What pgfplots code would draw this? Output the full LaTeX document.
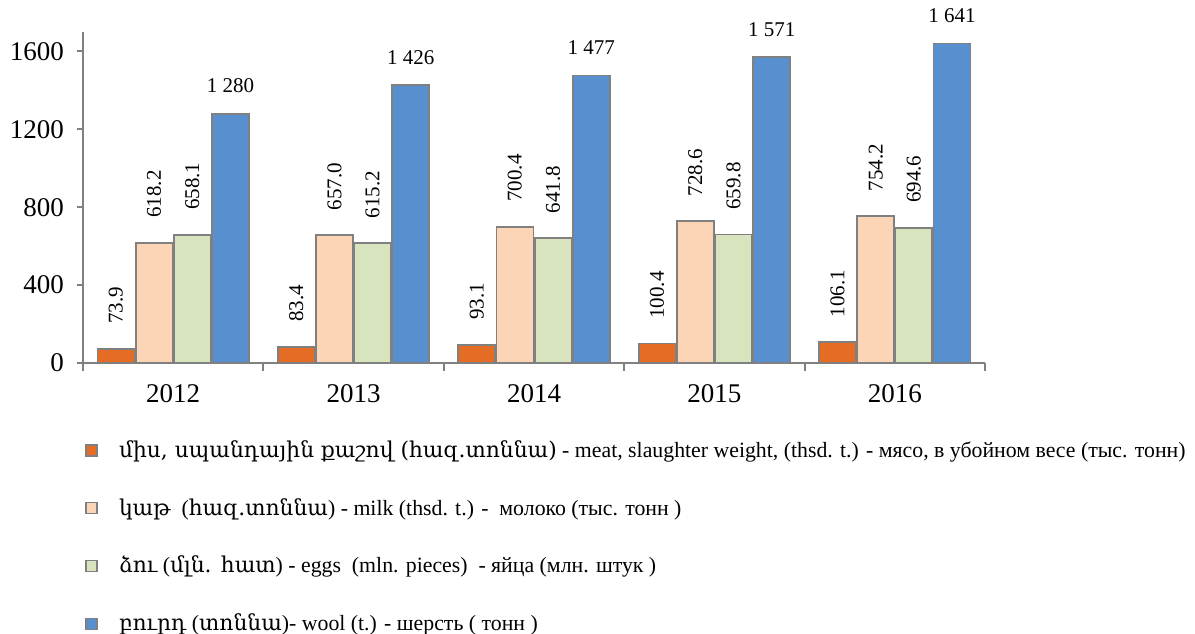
\documentclass[border=0pt]{standalone}
\usepackage{pgfplots}
\usepackage{pgfplotstable}
\pgfplotsset{compat=1.18}
\usepackage{fontspec}
\setmainfont{Liberation Serif}
\newfontfamily\arm{DejaVu Serif}
\definecolor{meat}{HTML}{E46C24}
\definecolor{milk}{HTML}{FBD5B5}
\definecolor{eggs}{HTML}{D7E4BD}
\definecolor{wool}{HTML}{578FCF}
\definecolor{edge}{HTML}{808080}
\pgfplotstableread{
x meat milk eggs
0 73.9 618.2 658.1
1 83.4 657.0 615.2
2 93.1 700.4 641.8
3 100.4 728.6 659.8
4 106.1 754.2 694.6
}\data
\pgfplotsset{vlabel/.style={nodes near coords={\pgfmathprintnumber[fixed,fixed zerofill,precision=1]{\pgfplotspointmeta}}, nodes near coords style={rotate=90, anchor=west, inner ysep=0pt, inner xsep=0pt, xshift=12pt, text=black, font=\fontsize{10.5}{12}\selectfont, /pgf/number format/assume math mode=true}}}
\begin{document}
\begin{tikzpicture}
\begin{axis}[
  at={(0,0)}, anchor=south west,
  scale only axis, width=451pt, height=165.5pt,
  ybar=0.6pt, bar width=0.205,
  xmin=-0.5, xmax=4.5, ymin=0, ymax=1700,
  axis x line*=bottom, axis y line*=left,
  axis line style={draw=edge, line width=1pt, -},
  xtick={0,1,2,3,4}, xticklabels={2012,2013,2014,2015,2016},
  major x tick style={draw=none},
  minor xtick={-0.5,0.5,1.5,2.5,3.5,4.5},
  minor tick length=4pt,
  major tick length=3pt,
  ytick={0,400,800,1200,1600},
  tick align=outside,
  every tick/.style={draw=edge, line width=1pt},
  /pgf/number format/assume math mode=true,
  /pgf/number format/1000 sep={},
  ticklabel style={font=\fontsize{13.5}{15}\selectfont},
  yticklabel style={xshift=-3pt},
  xticklabel style={yshift=-4pt},
  every axis plot/.append style={draw=edge, line width=0.9pt},
  legend cell align=left,
  legend style={draw=none, fill=none, at={(0,0)}, anchor=north west,
    xshift=-2pt, yshift=-34.5pt, font=\fontsize{10.9}{12}\selectfont, row sep=15pt},
  legend image code/.code={\draw[#1, draw=edge, line width=0.75pt] (0pt,-2.75pt) rectangle (5.5pt,2.75pt); \path (14pt,0pt);},
]
\addplot[fill=meat, vlabel] table[x=x, y=meat, meta=meat] {\data};
\addlegendentry{{\arm միս, սպանդային քաշով (հազ.տոննա)} - meat, slaughter weight, (thsd. t.) - мясо, в убойном весе (тыс. тонн)}
\addplot[fill=milk, vlabel] table[x=x, y=milk, meta=milk] {\data};
\addlegendentry{{\arm կաթ}~ ({\arm հազ.տոննա}) - milk (thsd. t.) -~ молоко (тыс. тонн )}
\addplot[fill=eggs, vlabel] table[x=x, y=eggs, meta=eggs] {\data};
\addlegendentry{{\arm ձու} ({\arm մլն. հատ}) - eggs~ (mln. pieces)~ - яйца (млн. штук )}
\addplot[fill=wool, nodes near coords, point meta=explicit symbolic,
  nodes near coords style={anchor=south, inner ysep=0pt, yshift=10pt, text=black, font=\fontsize{10.5}{12}\selectfont}]
  coordinates {(0,1280) [1 280] (1,1426) [1 426] (2,1477) [1 477] (3,1571) [1 571] (4,1641) [1 641]};
\addlegendentry{{\arm բուրդ} ({\arm տոննա})- wool (t.) - шерсть ( тонн )}
\end{axis}
\pgfresetboundingbox
\path (-41.5pt,-135pt) rectangle (556pt,181.5pt);
\end{tikzpicture}
\end{document}
